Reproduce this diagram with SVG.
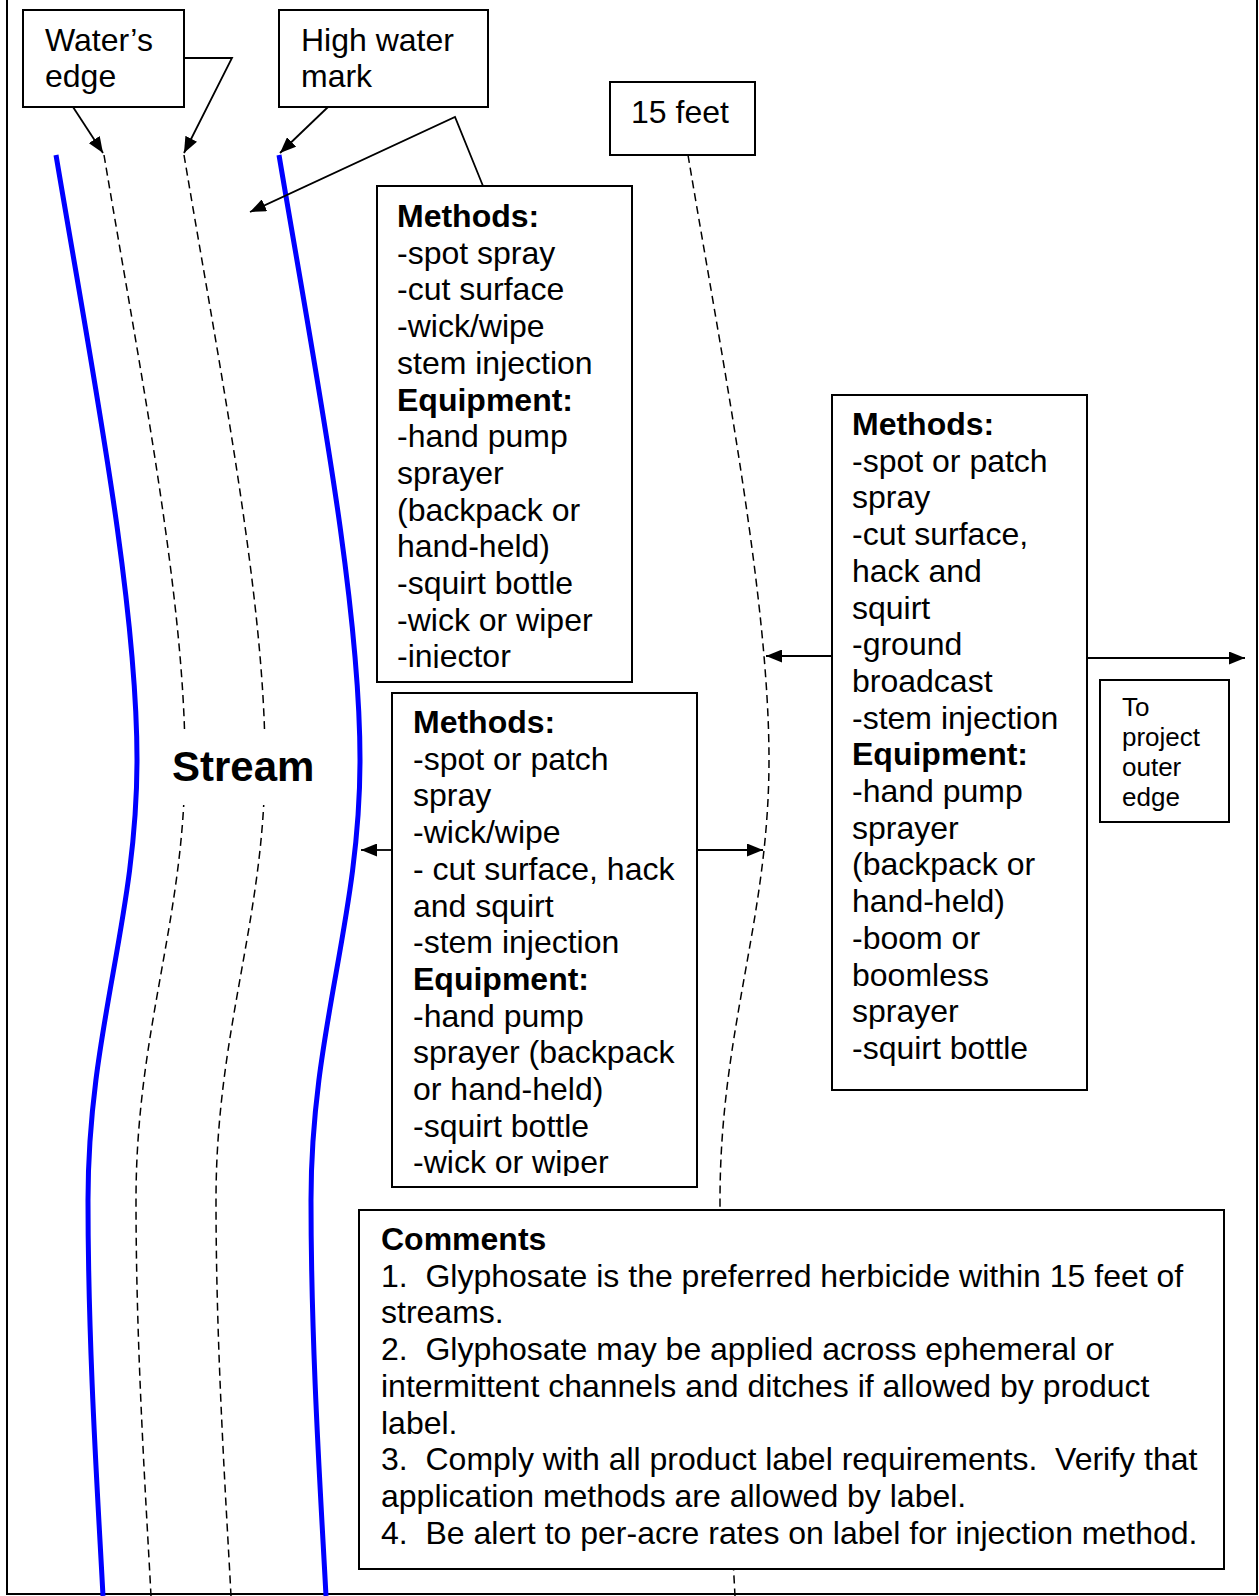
<svg xmlns="http://www.w3.org/2000/svg" width="1259" height="1596" viewBox="0 0 1259 1596">
<style>
text{font-family:"Liberation Sans",Arial,sans-serif;font-size:32px;fill:#000}
.b{font-weight:bold}
.box{fill:#fff;stroke:#000;stroke-width:2}
.blue{fill:none;stroke:#0000ff;stroke-width:5}
.dash{fill:none;stroke:#000;stroke-width:1.5;stroke-dasharray:8 5}
.con{fill:none;stroke:#000;stroke-width:1.8}
.frame{fill:none;stroke:#000;stroke-width:2}
</style>
<defs>
<marker id="ah" markerUnits="userSpaceOnUse" markerWidth="17" markerHeight="13" refX="16" refY="6.5" orient="auto">
<path d="M0,0 L16,6.5 L0,13 z" fill="#000"/>
</marker>
<path id="curve" d="M56,155 C92,370 137,600 137,760 C137,920 88,1030 88,1200 C88,1350 98,1500 103,1596"/>
<clipPath id="c1"><rect x="377" y="186" width="255" height="482"/></clipPath>
<clipPath id="c2"><rect x="392" y="693" width="305" height="483"/></clipPath>
</defs>
<g id="frame">
<path class="frame" d="M7,0 V1594 H1257 V0"/>
</g>
<g id="lines">
<use href="#curve" class="blue"/>
<use href="#curve" class="dash" transform="translate(48,0)"/>
<use href="#curve" class="dash" transform="translate(128,0)"/>
<use href="#curve" class="blue" transform="translate(223,0)"/>
<use href="#curve" class="dash" transform="translate(632,0)"/>
</g>
<g id="stream">
<rect x="160" y="729" width="165" height="76" fill="#fff"/>
<text class="b" x="172" y="781" style="font-size:42px">Stream</text>
</g>
<g id="waters-edge">
<rect class="box" x="23" y="10" width="161" height="97"/>
<text x="45" y="51">Water’s</text>
<text x="45" y="87">edge</text>
</g>
<g id="high-water-mark">
<rect class="box" x="279" y="10" width="209" height="97"/>
<text x="301" y="51">High water</text>
<text x="301" y="87">mark</text>
</g>
<g id="fifteen-feet">
<rect class="box" x="610" y="82" width="145" height="73"/>
<text x="631" y="123">15 feet</text>
</g>
<g id="methods-1">
<rect class="box" x="377" y="186" width="255" height="496"/>
<g clip-path="url(#c1)">
<text x="397" y="227" class="b">Methods:</text>
<text x="397" y="263.7">-spot spray</text>
<text x="397" y="300.4">-cut surface</text>
<text x="397" y="337.1">-wick/wipe</text>
<text x="397" y="373.8">stem injection</text>
<text x="397" y="410.5" class="b">Equipment:</text>
<text x="397" y="447.2">-hand pump</text>
<text x="397" y="483.9">sprayer</text>
<text x="397" y="520.6">(backpack or</text>
<text x="397" y="557.3">hand-held)</text>
<text x="397" y="594">-squirt bottle</text>
<text x="397" y="630.7">-wick or wiper</text>
<text x="397" y="667.4">-injector</text>
</g>
</g>
<g id="methods-2">
<rect class="box" x="392" y="693" width="305" height="494"/>
<g clip-path="url(#c2)">
<text x="413" y="733" class="b">Methods:</text>
<text x="413" y="769.7">-spot or patch</text>
<text x="413" y="806.4">spray</text>
<text x="413" y="843.1">-wick/wipe</text>
<text x="413" y="879.8" xml:space="preserve">- cut surface, hack</text>
<text x="413" y="916.5">and squirt</text>
<text x="413" y="953.2">-stem injection</text>
<text x="413" y="989.9" class="b">Equipment:</text>
<text x="413" y="1026.6">-hand pump</text>
<text x="413" y="1063.3">sprayer (backpack</text>
<text x="413" y="1100">or hand-held)</text>
<text x="413" y="1136.7">-squirt bottle</text>
<text x="413" y="1173.4">-wick or wiper</text>
</g>
</g>
<g id="methods-3">
<rect class="box" x="832" y="395" width="255" height="695"/>
<text x="852" y="435" class="b">Methods:</text>
<text x="852" y="471.7">-spot or patch</text>
<text x="852" y="508.4">spray</text>
<text x="852" y="545.1">-cut surface,</text>
<text x="852" y="581.8">hack and</text>
<text x="852" y="618.5">squirt</text>
<text x="852" y="655.2">-ground</text>
<text x="852" y="691.9">broadcast</text>
<text x="852" y="728.6">-stem injection</text>
<text x="852" y="765.3" class="b">Equipment:</text>
<text x="852" y="802">-hand pump</text>
<text x="852" y="838.7">sprayer</text>
<text x="852" y="875.4">(backpack or</text>
<text x="852" y="912.1">hand-held)</text>
<text x="852" y="948.8">-boom or</text>
<text x="852" y="985.5">boomless</text>
<text x="852" y="1022.2">sprayer</text>
<text x="852" y="1058.9">-squirt bottle</text>
</g>
<g id="outer-edge">
<rect class="box" x="1100" y="680" width="129" height="142"/>
<text x="1122" y="716" style="font-size:26px">To</text>
<text x="1122" y="746" style="font-size:26px">project</text>
<text x="1122" y="776" style="font-size:26px">outer</text>
<text x="1122" y="806" style="font-size:26px">edge</text>
</g>
<g id="comments">
<rect class="box" x="359" y="1210" width="865" height="359"/>
<text x="381" y="1250" class="b">Comments</text>
<text x="381" y="1286.7" xml:space="preserve">1.  Glyphosate is the preferred herbicide within 15 feet of</text>
<text x="381" y="1323.4">streams.</text>
<text x="381" y="1360.1" xml:space="preserve">2.  Glyphosate may be applied across ephemeral or</text>
<text x="381" y="1396.8">intermittent channels and ditches if allowed by product</text>
<text x="381" y="1433.5">label.</text>
<text x="381" y="1470.2" xml:space="preserve">3.  Comply with all product label requirements.  Verify that</text>
<text x="381" y="1506.9">application methods are allowed by label.</text>
<text x="381" y="1543.6" xml:space="preserve">4.  Be alert to per-acre rates on label for injection method.</text>
</g>
<g id="connectors">
<path class="con" d="M73,107 L103,153" marker-end="url(#ah)"/>
<path class="con" d="M184,58 H232 L184,153" marker-end="url(#ah)"/>
<path class="con" d="M328,107 L280,153" marker-end="url(#ah)"/>
<path class="con" d="M483,186 L455,117 L250,212" marker-end="url(#ah)"/>
<path class="con" d="M392,850 H361" marker-end="url(#ah)"/>
<path class="con" d="M697,850 H763" marker-end="url(#ah)"/>
<path class="con" d="M832,656 H766" marker-end="url(#ah)"/>
<path class="con" d="M1087,658 H1245" marker-end="url(#ah)"/>
</g>
</svg>
